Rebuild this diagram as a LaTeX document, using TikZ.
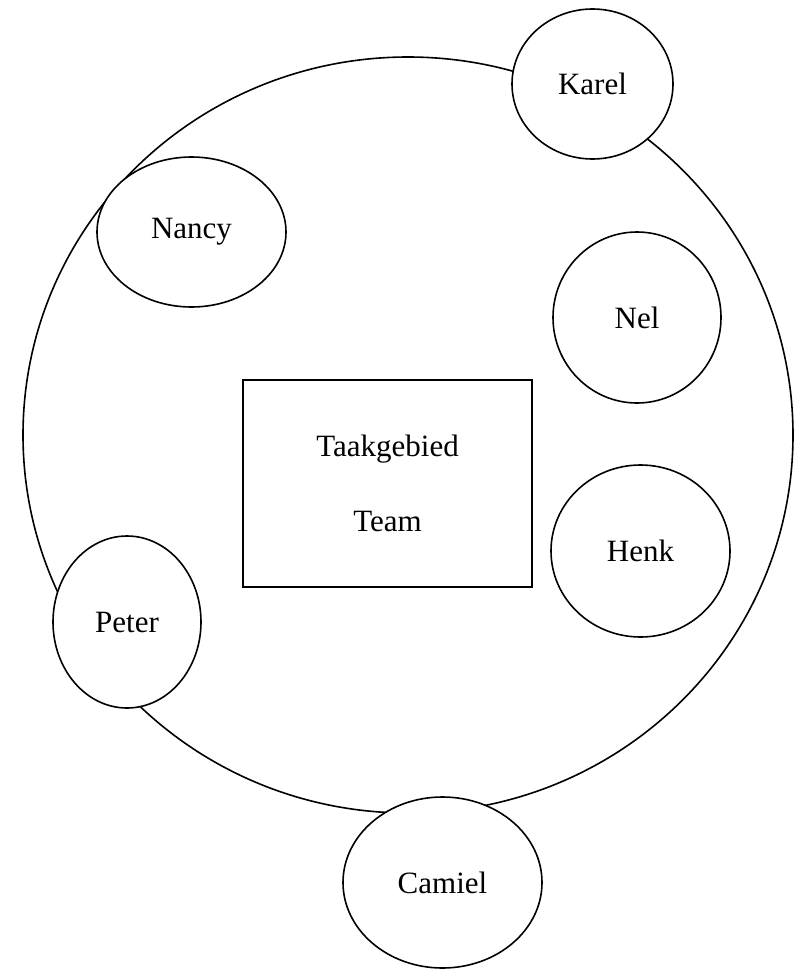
\documentclass[tikz,border=0pt]{standalone}
\usepackage{fontspec}
\setmainfont{Liberation Serif}
\usetikzlibrary{shapes.geometric}

\begin{document}
\begin{tikzpicture}[x=0.5pt, y=-0.5pt, line width=0.8pt, font=\fontsize{15.5}{37.5}\selectfont, block/.style={rectangle, draw, inner sep=0pt, align=center, minimum width=144.5pt, minimum height=103.5pt}, member/.style={ellipse, draw, fill=white, inner sep=0pt}]
    \useasboundingbox (0,0) rectangle (799,969);
    \node[ellipse, draw, minimum width=385pt, minimum height=378pt] (ring) at (408,435) {};
    \node[block] (task) at (387.5,483.5) {Taakgebied\\Team};

    \node[member, minimum width=80.5pt, minimum height=75pt] (karel) at (592.5,84) {Karel};
    \node[member, minimum width=94.5pt, minimum height=75pt] (nancy) at (191.5,232) {Nancy};
    \node[member, minimum width=84pt, minimum height=85.5pt] (nel) at (637,317.5) {Nel};
    \node[member, minimum width=89.5pt, minimum height=86pt] (henk) at (640.5,551) {Henk};
    \node[member, minimum width=74pt, minimum height=86pt] (peter) at (127,622) {Peter};
    \node[member, minimum width=99.5pt, minimum height=85.5pt] (camiel) at (442.5,882.5) {Camiel};
  \end{tikzpicture}
\end{document}
